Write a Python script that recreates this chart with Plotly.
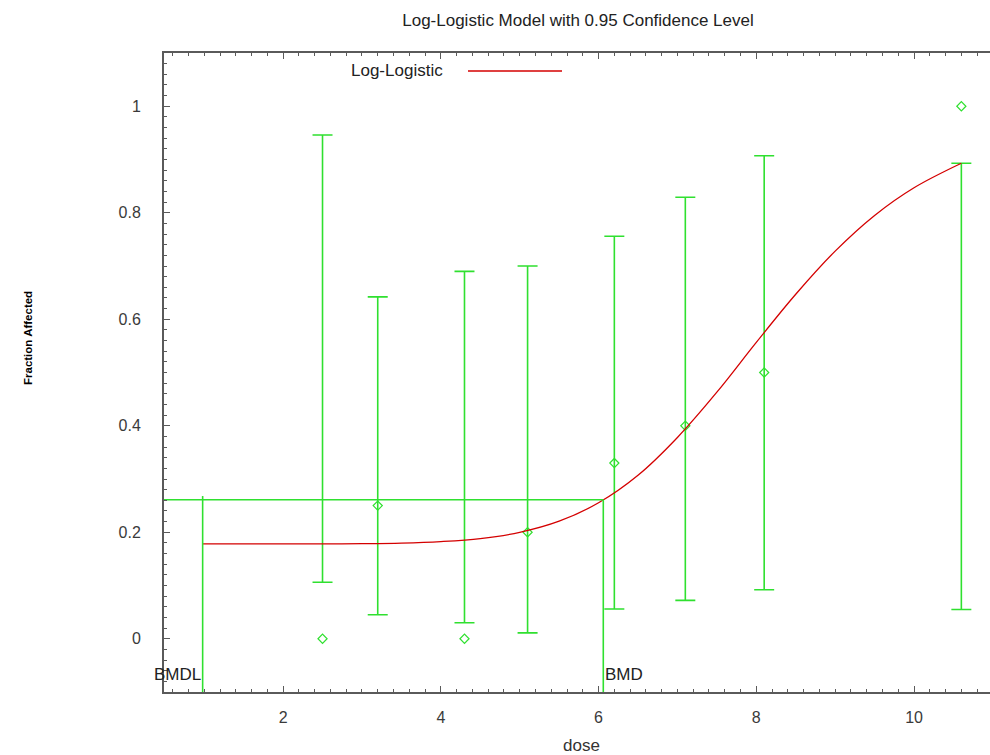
import plotly.graph_objects as go

# ---- data ----
dose = [2.5, 3.2, 4.3, 5.1, 6.2, 7.1, 8.1, 10.6]
frac = [0.0, 0.25, 0.0, 0.2, 0.33, 0.4, 0.5, 1.0]
ci_low = [0.106, 0.045, 0.030, 0.011, 0.056, 0.072, 0.092, 0.055]
ci_high = [0.946, 0.642, 0.690, 0.700, 0.756, 0.829, 0.907, 0.893]

curve_x = [0.98, 1.5, 2.0, 2.5, 3.0, 3.5, 4.0, 4.5, 5.0, 5.5, 6.0, 6.5, 7.0,
           7.5, 8.0, 8.5, 9.0, 9.5, 10.0, 10.6]
curve_y = [0.178, 0.178, 0.178, 0.178, 0.1785, 0.1796, 0.1824, 0.188, 0.1998,
           0.2207, 0.2553, 0.307, 0.378, 0.463, 0.5566, 0.647, 0.728, 0.795,
           0.847, 0.893]

bmdl = 0.98
bmd = 6.06
bmr_level = 0.261
bmdl_top = 0.268

x_range = [0.49, 11.09]
y_range = [-0.1, 1.1]
x_ticks = [2, 4, 6, 8, 10]
y_ticks = [0, 0.2, 0.4, 0.6, 0.8, 1]
y_tick_text = ["0", "0.2", "0.4", "0.6", "0.8", "1"]

GREEN = "#2fe02f"
RED = "#d40000"
AXIS = "#5a5a5a"
FONT = "Liberation Sans, Arial, sans-serif"

# the plot frame runs past the right edge of the 990px window
W, H = 1000, 755
ML, MT, MB = 164, 53, 63
PW = W - ML
PH = H - MT - MB


def px_x(p):  # page pixel -> paper fraction
    return (p - ML) / PW


def px_y(p):
    return (MT + PH - p) / PH


fig = go.Figure()

# error bars (drawn from lower bound up to upper bound)
fig.add_trace(go.Scatter(
    x=dose, y=ci_low, mode="markers",
    marker=dict(size=1, color="rgba(0,0,0,0)"),
    error_y=dict(type="data", symmetric=False,
                 array=[h - l for h, l in zip(ci_high, ci_low)],
                 arrayminus=[0] * len(dose),
                 color=GREEN, thickness=1.6, width=10),
    hoverinfo="skip", showlegend=False))

# observed points
fig.add_trace(go.Scatter(
    x=dose, y=frac, mode="markers",
    marker=dict(symbol="diamond-open", size=7, color=GREEN, line=dict(width=1.2)),
    showlegend=False))

# fitted curve
fig.add_trace(go.Scatter(
    x=curve_x, y=curve_y, mode="lines", line_shape="spline",
    line=dict(color=RED, width=1.3), showlegend=False))

# BMR / BMD / BMDL lines
fig.add_trace(go.Scatter(x=[x_range[0], bmd], y=[bmr_level, bmr_level], mode="lines",
                         line=dict(color=GREEN, width=1.6), showlegend=False))
fig.add_trace(go.Scatter(x=[bmd, bmd], y=[bmr_level, y_range[0]], mode="lines",
                         line=dict(color=GREEN, width=1.6), showlegend=False))
fig.add_trace(go.Scatter(x=[bmdl, bmdl], y=[bmdl_top, y_range[0]], mode="lines",
                         line=dict(color=GREEN, width=1.6), showlegend=False))

axis_common = dict(
    showline=True, linecolor=AXIS, linewidth=2,
    ticks="inside", ticklen=6, tickwidth=1.2, tickcolor=AXIS,
    showgrid=False, zeroline=False,
    tickfont=dict(family=FONT, size=16, color="#3a3a3a"),
)

fig.update_xaxes(range=x_range, tickvals=x_ticks, mirror="ticks",
                 minor=dict(dtick=0.2, ticks="inside", ticklen=3, tickcolor=AXIS, showgrid=False),
                 ticklabelstandoff=10, **axis_common)
fig.update_yaxes(range=y_range, tickvals=y_ticks, ticktext=y_tick_text, mirror=False,
                 minor=dict(dtick=0.02, ticks="inside", ticklen=3, tickcolor=AXIS, showgrid=False),
                 ticklabelstandoff=18, **axis_common)

fig.update_layout(
    width=W, height=H,
    margin=dict(l=ML, r=0, t=MT, b=MB),
    paper_bgcolor="white", plot_bgcolor="white",
    title=dict(text="Log-Logistic Model with 0.95 Confidence Level",
               x=px_x(578), xref="paper", xanchor="center",
               y=1 - 20 / H, yanchor="middle",
               font=dict(family=FONT, size=17, color="#222")),
    annotations=[
        dict(text="dose", xref="paper", yref="paper", x=px_x(581), y=px_y(745),
             yanchor="middle", showarrow=False,
             font=dict(family=FONT, size=17, color="#333")),
        dict(text="<b>Fraction Affected</b>", xref="paper", yref="paper",
             x=px_x(20), y=px_y(338), textangle=-90, showarrow=False,
             font=dict(family=FONT, size=11.5, color="#000")),
        dict(text="BMDL", x=bmdl, y=-0.0675, xanchor="right", yanchor="middle",
             showarrow=False, font=dict(family=FONT, size=17, color="#222")),
        dict(text="BMD", x=bmd, y=-0.0675, xanchor="left", yanchor="middle",
             showarrow=False, font=dict(family=FONT, size=17, color="#222")),
        dict(text="Log-Logistic", xref="paper", yref="paper",
             x=px_x(445), y=px_y(71), xanchor="right", yanchor="middle",
             showarrow=False, font=dict(family=FONT, size=17, color="#222")),
    ],
    shapes=[
        dict(type="line", xref="paper", yref="paper",
             x0=px_x(468), x1=px_x(562), y0=px_y(71), y1=px_y(71),
             line=dict(color=RED, width=1.3)),
    ],
)

fig.write_html(
    "out.html",
    config={"displayModeBar": False},
    post_script="document.body.style.margin='0';document.body.style.overflow='hidden';",
)
